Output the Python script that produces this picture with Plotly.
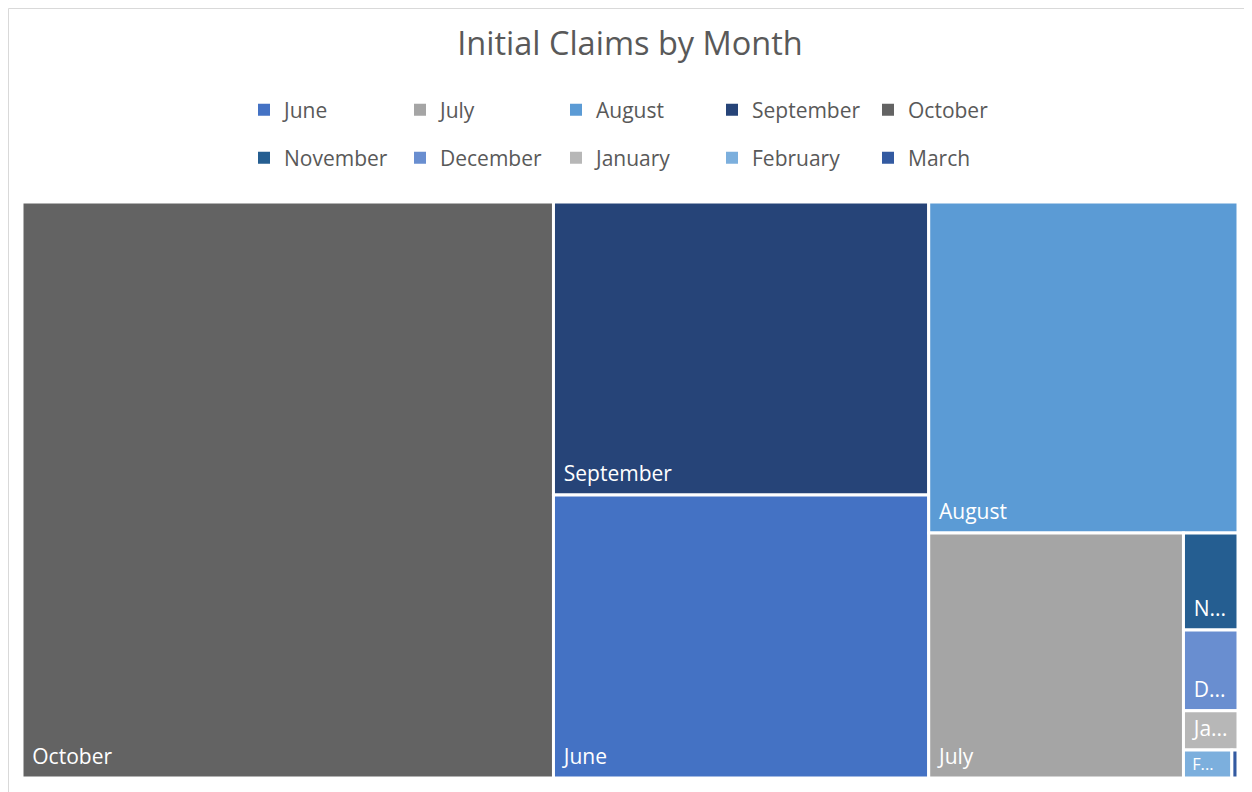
import plotly.graph_objects as go

months = ["October", "September", "June", "August", "July",
          "November", "December", "January", "February", "March"]
claims = [304100, 109200, 105500, 101700, 62000, 5260, 4370, 2130, 1340, 170]
tile_text = ["October", "September", "June", "August", "July",
             "N...", "D...", "Ja...", "F...", ""]
colors = {
    "June": "#4472C4", "July": "#A5A5A5", "August": "#5B9BD5",
    "September": "#264478", "October": "#636363", "November": "#255E91",
    "December": "#698ED0", "January": "#B7B7B7", "February": "#7CAFDD",
    "March": "#335AA1",
}
legend_row1 = ["June", "July", "August", "September", "October"]
legend_row2 = ["November", "December", "January", "February", "March"]

FONT = "Open Sans, Noto Sans, sans-serif"
W, H = 1244, 784
L, R, T, B = 14, 14, 194, 14
PW, PH = W - L - R, H - T - B

normal_tpl = ("<span style='font-size:14px'>&nbsp;&nbsp;</span>"
              "<span style='font-size:21px'>%{text}</span><br>&nbsp;")
tight_tpl = ("<span style='font-size:12px'>&nbsp;&nbsp;</span>"
             "<span style='font-size:18px'>%{text}</span>")
templates = [tight_tpl if m == "February" else normal_tpl for m in months]

fig = go.Figure()
fig.add_trace(go.Treemap(
    labels=months,
    parents=[""] * len(months),
    values=claims,
    text=tile_text,
    texttemplate=templates,
    textposition="bottom left",
    textfont=dict(family=FONT, size=7, color="white"),
    marker=dict(colors=[colors[m] for m in months],
                line=dict(color="white", width=3),
                pad=dict(t=0, l=0, r=0, b=0)),
    tiling=dict(packing="squarify", squarifyratio=1, pad=0),
    pathbar=dict(visible=False),
    sort=True,
    hoverinfo="skip",
))

for name in legend_row1 + legend_row2:
    fig.add_trace(go.Scatter(
        x=[None], y=[None], mode="markers", name=name,
        marker=dict(symbol="square", size=12, color=colors[name]),
        legend="legend" if name in legend_row1 else "legend2",
        hoverinfo="skip",
    ))

leg_common = dict(orientation="h", entrywidth=111, xanchor="left",
                  x=222 / PW, yref="container", yanchor="middle",
                  font=dict(family=FONT, size=21, color="#595959"),
                  bgcolor="rgba(0,0,0,0)", borderwidth=0)

fig.update_layout(
    width=W, height=H,
    margin=dict(l=L, r=R, t=T, b=B),
    paper_bgcolor="white", plot_bgcolor="white",
    title=dict(text="Initial Claims by Month", x=0.5, xanchor="center",
               xref="paper",
               y=1 - 36 / H, yanchor="middle",
               font=dict(family=FONT, size=32.5, color="#595959")),
    xaxis=dict(visible=False), yaxis=dict(visible=False),
    legend=dict(**leg_common, y=1 - 102 / H),
    legend2=dict(**leg_common, y=1 - 150 / H),
    shapes=[dict(type="rect", xref="paper", yref="paper",
                 x0=(0.5 - L) / PW, x1=(W + 20 - L) / PW,
                 y0=-40 / PH, y1=1 + (T - 0.5) / PH,
                 line=dict(color="#D9D9D9", width=1), layer="below")],
)

fig.write_html("out.html")
